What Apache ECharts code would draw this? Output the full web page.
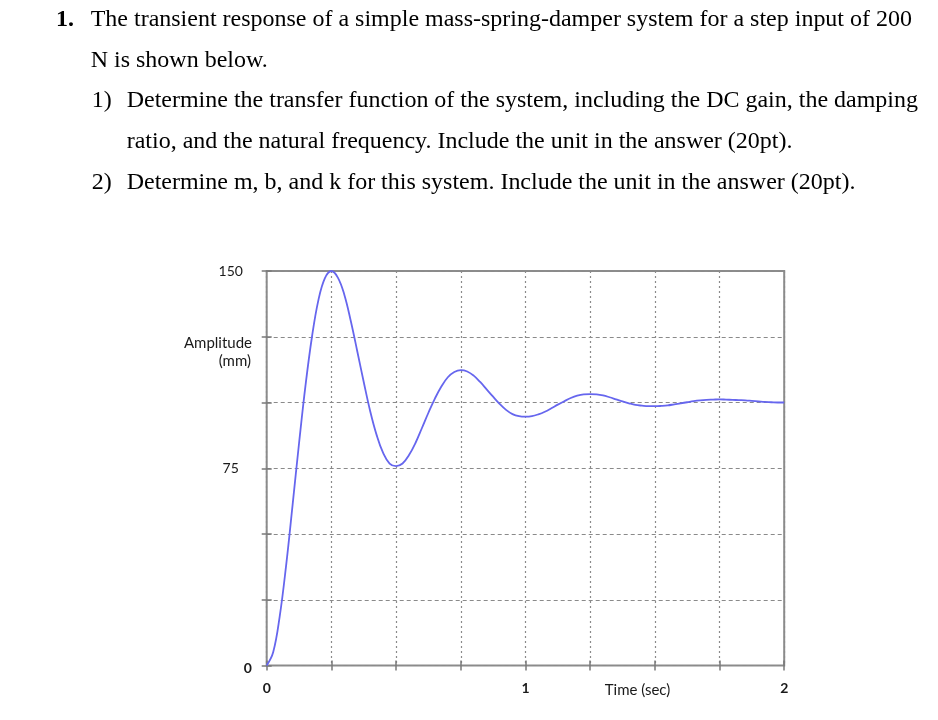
<!DOCTYPE html>
<html>
<head>
<meta charset="utf-8">
<script src="https://cdn.jsdelivr.net/npm/echarts@6/dist/echarts.min.js"></script>
<style>
html,body{margin:0;padding:0;background:#fff;}
#chart{width:938px;height:720px;}
</style>
</head>
<body>
<div id="chart"></div>
<script>
// ---- data ----
const times = [
  0, 0.025, 0.05, 0.075, 0.1, 0.125, 0.15, 0.175, 0.2, 0.225,
  0.25, 0.275, 0.3, 0.325, 0.35, 0.375, 0.4, 0.425, 0.45, 0.475,
  0.5, 0.525, 0.55, 0.575, 0.6, 0.625, 0.65, 0.675, 0.7, 0.725,
  0.75, 0.775, 0.8, 0.825, 0.85, 0.875, 0.9, 0.925, 0.95, 0.975,
  1, 1.025, 1.05, 1.075, 1.1, 1.125, 1.15, 1.175, 1.2, 1.225,
  1.25, 1.275, 1.3, 1.325, 1.35, 1.375, 1.4, 1.425, 1.45, 1.475,
  1.5, 1.525, 1.55, 1.575, 1.6, 1.625, 1.65, 1.675, 1.7, 1.725,
  1.75, 1.775, 1.8, 1.825, 1.85, 1.875, 1.9, 1.925, 1.95, 1.975, 2
];
const amplitude = [
  0, 5, 18.5, 38, 61, 84.5, 106.5, 125, 139, 147.3,
  150, 147.5, 141, 131, 119.5, 107.8, 96.7, 87.6, 80.8, 76.8,
  75.8, 76.8, 80, 84.6, 90.3, 96.1, 101.5, 106.1, 109.6, 111.6,
  112.3, 111.8, 110.2, 107.8, 105, 102.2, 99.5, 97.2, 95.6, 94.8,
  94.6, 94.8, 95.5, 96.5, 97.8, 99.2, 100.5, 101.7, 102.6, 103.1,
  103.2, 103.1, 102.7, 102, 101.2, 100.4, 99.7, 99.1, 98.8, 98.6,
  98.6, 98.7, 98.9, 99.3, 99.7, 100.1, 100.5, 100.8, 101, 101.1,
  101.2, 101.1, 101, 100.9, 100.8, 100.6, 100.4, 100.2, 100.1, 100, 100
];
const xTickLabels = [0, 1, 2];
const yTickLabels = [0, 75, 150];
const xAxisTitle = 'Time (sec)';
const yAxisTitle = ['Amplitude', '(mm)'];
const questionLines = [
  { num: '1.', text: 'The transient response of a simple mass-spring-damper system for a step input of 200' },
  { num: '',   text: 'N is shown below.' },
  { num: '1)', text: 'Determine the transfer function of the system, including the DC gain, the damping' },
  { num: '',   text: 'ratio, and the natural frequency. Include the unit in the answer (20pt).' },
  { num: '2)', text: 'Determine m, b, and k for this system. Include the unit in the answer (20pt).' }
];

// ---- layout ----
const serif = '"Liberation Serif", "Times New Roman", serif';
const sans = 'Lato, "Open Sans", sans-serif';
const meas = document.createElement('canvas').getContext('2d');
meas.font = '100px ' + serif;
const refW = meas.measureText(questionLines[4].text).width;
const fs = 100 * 729 / refW;

const lineBase = [27, 68.3, 108.3, 149.3, 190];
const numX = [56, 0, 91.7, 0, 91.7];
const textX = [90.7, 90.7, 126.7, 126.7, 126.7];
const graphics = [];
questionLines.forEach((ln, i) => {
  const y = lineBase[i] - fs * 0.32;
  if (ln.num) {
    graphics.push({ type: 'text', x: numX[i], y: y, style: {
      text: ln.num, fill: '#000', font: (i === 0 ? 'bold ' : '') + fs.toFixed(2) + 'px ' + serif,
      verticalAlign: 'middle', align: 'left' } });
  }
  graphics.push({ type: 'text', x: textX[i], y: y, style: {
    text: ln.text, fill: '#000', font: fs.toFixed(2) + 'px ' + serif,
    verticalAlign: 'middle', align: 'left' } });
});
graphics.push({ type: 'text', x: 637.5, y: 690, style: {
  text: xAxisTitle, fill: '#1a1a1a', font: '15px ' + sans, align: 'center', verticalAlign: 'middle' } });
graphics.push({ type: 'text', x: 252, y: 343, style: {
  text: yAxisTitle[0], fill: '#1a1a1a', font: '15px ' + sans, align: 'right', verticalAlign: 'middle' } });
graphics.push({ type: 'text', x: 251, y: 361, style: {
  text: yAxisTitle[1], fill: '#1a1a1a', font: '15px ' + sans, align: 'right', verticalAlign: 'middle' } });

const tickStyle = { show: true, inside: true, length: 5, lineStyle: { color: '#7a7a7a', width: 1.5 } };
const chart = echarts.init(document.getElementById('chart'), null, { renderer: 'canvas' });
chart.setOption({
  animation: false,
  backgroundColor: '#fff',
  grid: { left: 266.7, top: 271, width: 517.5, height: 394.5, show: true,
          borderColor: '#8c8c8c', borderWidth: 2, backgroundColor: 'transparent' },
  graphic: graphics,
  xAxis: [
    { type: 'value', min: 0, max: 2, interval: 0.25, position: 'bottom',
      axisLine: { show: false }, axisTick: tickStyle,
      axisLabel: { showMinLabel: true, showMaxLabel: true, margin: 16,
        fontFamily: sans, fontSize: 14, fontWeight: 'bold', color: '#1a1a1a',
        formatter: v => xTickLabels.indexOf(v) >= 0 ? String(v) : '' },
      splitLine: { show: true, lineStyle: { color: '#8a8a8a', type: [2, 3], width: 1.2 } } },
    { type: 'value', min: 0, max: 2, interval: 0.25, position: 'top',
      axisLine: { show: false }, axisTick: tickStyle, axisLabel: { show: false }, splitLine: { show: false } }
  ],
  yAxis: [
    { type: 'value', min: 0, max: 150, interval: 25, position: 'left',
      axisLine: { show: false }, axisTick: tickStyle,
      axisLabel: { showMinLabel: true, showMaxLabel: true, margin: 36, align: 'center',
        fontFamily: sans, fontSize: 14, color: '#1a1a1a',
        formatter: v => v === 0 ? '{z|0}' : (yTickLabels.indexOf(v) >= 0 ? String(v) : ''),
        rich: { z: { fontFamily: sans, fontSize: 14, fontWeight: 'bold', color: '#1a1a1a', padding: [6, 0, 0, 34] } } },
      splitLine: { show: true, lineStyle: { color: '#8a8a8a', type: [4, 3], width: 1.2 } } },
    { type: 'value', min: 0, max: 150, interval: 25, position: 'right',
      axisLine: { show: false }, axisTick: tickStyle, axisLabel: { show: false }, splitLine: { show: false } }
  ],
  series: [{
    type: 'line', xAxisIndex: 0, yAxisIndex: 0,
    data: times.map((t, i) => [t, amplitude[i]]),
    showSymbol: false, smooth: 0.4,
    lineStyle: { color: '#6666ee', width: 1.8 }
  }]
});
</script>
</body>
</html>
